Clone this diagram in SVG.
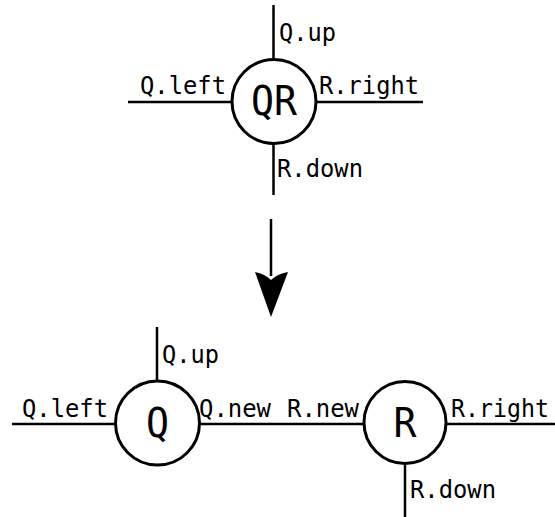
<svg xmlns="http://www.w3.org/2000/svg" width="555" height="517" viewBox="0 0 555 517">
  <style>
    .edge { stroke: #000; stroke-width: 2.5; fill: none; }
    .node { stroke: #000; stroke-width: 3; fill: #fff; }
    .lbl { font-family: "DejaVu Sans Mono", "Liberation Mono", monospace; font-size: 25px; fill: #000; }
    .name { font-family: "DejaVu Sans Mono", "Liberation Mono", monospace; font-size: 40px; fill: #000; text-anchor: middle; }
  </style>
  <rect width="555" height="517" fill="#fff"/>

  <!-- legs and the rewrite arrow -->
  <g id="connectors">
    <!-- merged node QR -->
    <line class="edge" x1="273.5" y1="5" x2="273.5" y2="60"/>
    <line class="edge" x1="273.5" y1="143" x2="273.5" y2="195"/>
    <line class="edge" x1="128" y1="102" x2="232" y2="102"/>
    <line class="edge" x1="316" y1="102" x2="423" y2="102"/>
    <!-- rewrite arrow -->
    <line class="edge" x1="271" y1="219" x2="271" y2="276"/>
    <path d="M255,272 Q265,274 271,280 Q277,274 288,272 L271,317 Z" fill="#000"/>
    <!-- split nodes Q and R -->
    <line class="edge" x1="157" y1="327" x2="157" y2="381"/>
    <line class="edge" x1="12" y1="424" x2="116" y2="424"/>
    <line class="edge" x1="199" y1="424" x2="364" y2="424"/>
    <line class="edge" x1="446" y1="424" x2="555" y2="424"/>
    <line class="edge" x1="405" y1="464" x2="405" y2="517"/>
  </g>

  <g id="node-QR">
    <circle class="node" cx="274" cy="101.5" r="42"/>
    <text class="name" x="274" y="115" textLength="46" lengthAdjust="spacingAndGlyphs">QR</text>
    <text class="lbl" x="279" y="41" textLength="57" lengthAdjust="spacingAndGlyphs">Q.up</text>
    <text class="lbl" x="140" y="94" textLength="86" lengthAdjust="spacingAndGlyphs">Q.left</text>
    <text class="lbl" x="319" y="94" textLength="100" lengthAdjust="spacingAndGlyphs">R.right</text>
    <text class="lbl" x="277" y="177" textLength="86" lengthAdjust="spacingAndGlyphs">R.down</text>
  </g>

  <g id="node-Q">
    <circle class="node" cx="157.5" cy="423" r="42"/>
    <text class="name" x="157.5" y="437" textLength="23" lengthAdjust="spacingAndGlyphs">Q</text>
    <text class="lbl" x="162" y="363" textLength="57" lengthAdjust="spacingAndGlyphs">Q.up</text>
    <text class="lbl" x="22" y="417" textLength="86" lengthAdjust="spacingAndGlyphs">Q.left</text>
    <text class="lbl" x="199" y="417" textLength="72" lengthAdjust="spacingAndGlyphs">Q.new</text>
  </g>

  <g id="node-R">
    <circle class="node" cx="405" cy="422.5" r="41"/>
    <text class="name" x="405" y="437" textLength="23" lengthAdjust="spacingAndGlyphs">R</text>
    <text class="lbl" x="287" y="417" textLength="72" lengthAdjust="spacingAndGlyphs">R.new</text>
    <text class="lbl" x="451" y="417" textLength="98" lengthAdjust="spacingAndGlyphs">R.right</text>
    <text class="lbl" x="410" y="498" textLength="86" lengthAdjust="spacingAndGlyphs">R.down</text>
  </g>
</svg>
